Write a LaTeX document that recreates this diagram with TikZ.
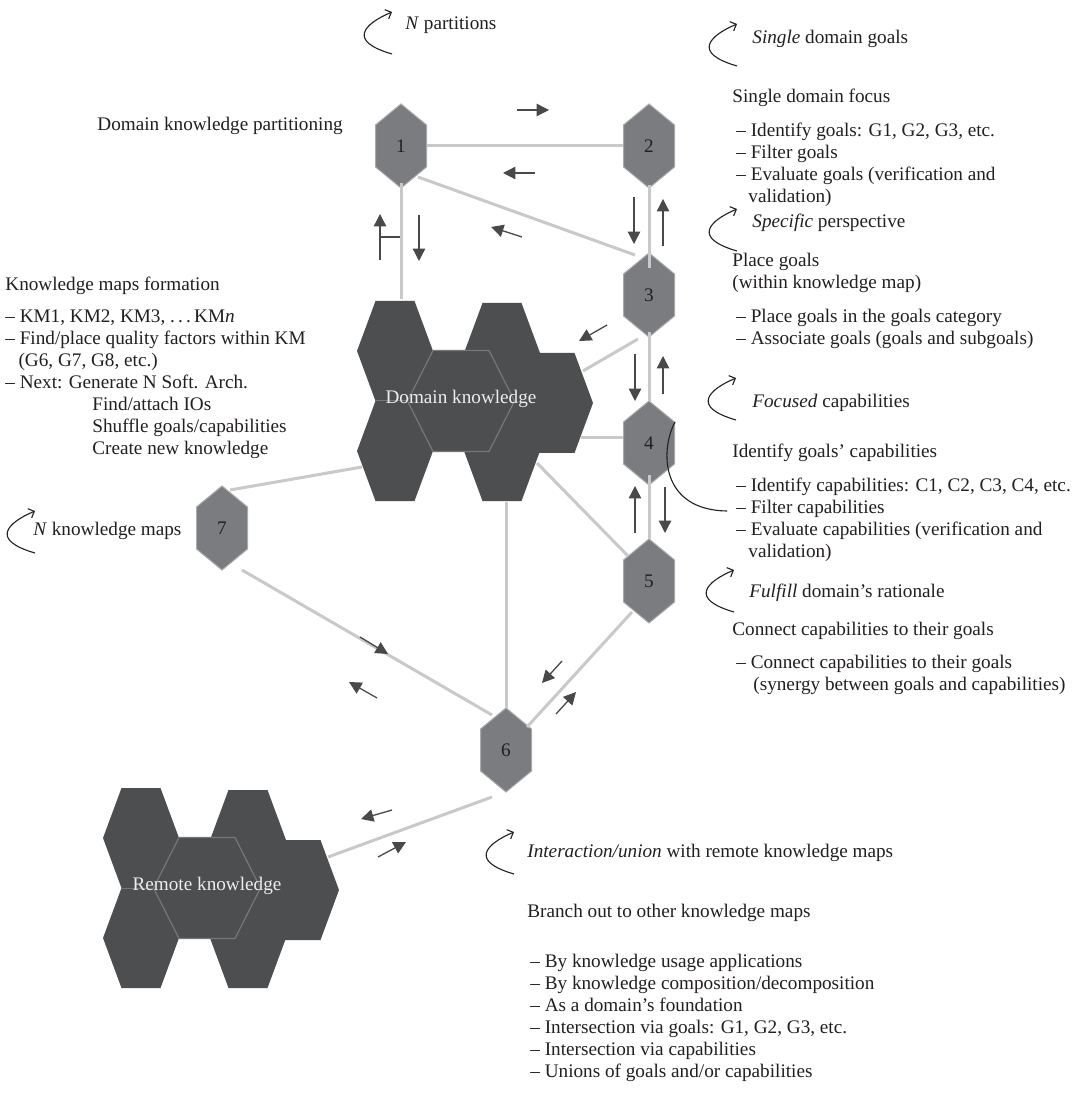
\documentclass[tikz,border=0pt]{standalone}
\usepackage{fontspec}
\setmainfont{Liberation Serif}
\usetikzlibrary{arrows.meta,calc}

\definecolor{darkhex}{HTML}{4D4E50}
\definecolor{midhex}{HTML}{7B7C7F}
\definecolor{hexrim}{HTML}{A9AAAC}
\definecolor{linkgray}{HTML}{C9C9C9}
\definecolor{flowgray}{HTML}{48494B}
\definecolor{ink}{HTML}{231F20}
\definecolor{seam}{HTML}{76777A}

\tikzset{
  link/.style={draw=linkgray, line width=1.5pt},
  flow/.style={draw=flowgray, line width=0.65pt, -{Triangle[length=6.2pt,width=6.2pt]}},
  turn/.style={draw=ink, line width=0.55pt, -{Straight Barb[length=2.5pt,width=5pt]}},
  % multi-line blocks are placed by the baseline of their last line
  txt/.style={font=\fontsize{9.6}{11}\selectfont, text=ink, inner sep=0pt, anchor=base west, align=left},
  hexlabel/.style={minimum width=25.5pt, minimum height=42pt, inner sep=0pt,
                   font=\fontsize{9.6}{11}\selectfont, text=ink},
  clusterlabel/.style={font=\fontsize{9.6}{11}\selectfont, text=white!93!black, inner sep=0pt},
  smallhexfill/.style={fill=midhex, draw=hexrim, line width=0.5pt},
}

% elongated stage hexagon with its number
\newcommand\stagehex[3]{%
  \filldraw[smallhexfill, shift={(#2)}]
    (0,-42) -- (25.5,-21) -- (25.5,21) -- (0,42) -- (-25.5,21) -- (-25.5,-21) -- cycle;
  \node[hexlabel] (#1) at (#2) {#3};}

% cluster of dark hexagons around an outlined centre cell
\newcommand\knowledgecluster[3]{%
  \begin{scope}[shift={(#2)}]
    \foreach \cx/\cy in {-66/-50, -66/50, 41/-48, 41/50, 94/2}
      \fill[darkhex] (\cx-19.5,\cy-50) -- (\cx+19.5,\cy-50) -- (\cx+38,\cy)
        -- (\cx+19.5,\cy+50) -- (\cx-19.5,\cy+50) -- (\cx-38,\cy) -- cycle;
    \draw[seam, line width=0.5pt] (-85.5,0) -- (-53.5,0);
    \filldraw[fill=darkhex, draw=seam, line width=0.6pt]
      (-28,-50.5) -- (28,-50.5) -- (53.5,0) -- (28,50.5) -- (-28,50.5) -- (-53.5,0) -- cycle;
  \end{scope}
  \node[clusterlabel] (#1) at ($(#2)+(0,-2)$) {#3};}

% small curved turn arrow, head at the given point
\newcommand\turnarrow[2]{%
  \draw[turn, shift={(#1,#2)}] (0,42) .. controls (-45,29) and (-28,12) .. (0,0);}

\begin{document}
\begin{tikzpicture}[x=0.5pt, y=-0.5pt]
\fill[white] (0,0) rectangle (1071,1095);
\useasboundingbox (0,0) rectangle (1071,1095);

% knowledge clusters
\knowledgecluster{dk}{461,401}{Domain knowledge}
\knowledgecluster{rk}{207,888}{Remote knowledge}

% stage hexagons
\stagehex{n1}{401,146}{1}
\stagehex{n2}{649,146}{2}
\stagehex{n3}{649,295}{3}
\stagehex{n4}{649,443}{4}
\stagehex{n5}{649,581}{5}
\stagehex{n6}{506,750}{6}
\stagehex{n7}{222,528}{7}

% connectors
\draw[link] (n1.east) -- (n2.west);
\draw[link] ($(n1)+(17,31)$) -- ($(n3)+(-14,-40)$);
\draw[link] ($(n1)+(0,37)$) -- ($(dk)+(-60,-100)$);
\draw[link] ($(n2)+(0,39)$) -- ($(n3)+(0,-27)$);
\draw[link] ($(n3)+(-11,44)$) -- ($(dk)+(122,-28)$);
\draw[link] ($(n3)+(0,37)$) -- (n4.north);
\draw[link] ($(n4.west)+(0,-5)$) -- ($(dk)+(120,39)$);
\draw[link] ($(n4)+(0,32)$) -- (n5.north);
\draw[link] ($(n5)+(-21,-25)$) -- ($(dk)+(76,64)$);
\draw[link] ($(dk)+(45,103)$) -- (n6.north);
\draw[link] ($(n7)+(8,-38)$) -- ($(dk)+(-99,68)$);
\draw[link] ($(n7)+(20,42)$) -- ($(n6)+(-14,-35)$);
\draw[link] ($(n5)+(-17,31)$) -- ($(n6)+(21,-23)$);
\draw[link] ($(n6)+(-14,47)$) -- ($(rk)+(121,-29)$);

% direction arrows
\draw[flow] (517,110) -- (549,110);
\draw[flow] (535,173) -- (503,173);
\draw[flow] (522,237) -- (491,227);
\draw[flow] (380,260) -- (380,214);
\draw[draw=flowgray, line width=0.65pt] (380,237) -- (400,237);
\draw[flow] (419,215) -- (419,261);
\draw[flow] (634,197) -- (634,244);
\draw[flow] (663,246) -- (663,199);
\draw[flow] (607,325) -- (579,341);
\draw[flow] (635,354) -- (635,401);
\draw[flow] (663,394) -- (663,356);
\draw[flow] (635,533) -- (635,486);
\draw[flow] (665,487) -- (665,533);
\draw[flow] (360,637) -- (388,654);
\draw[flow] (377,698) -- (349,682);
\draw[flow] (562,661) -- (542,683);
\draw[flow] (556,714) -- (576,692);
\draw[flow] (392,810) -- (361,819);
\draw[flow] (378,857) -- (406,842);

% turn arrows
\turnarrow{392}{12}
\turnarrow{737}{24}
\turnarrow{737}{209}
\turnarrow{736}{378}
\turnarrow{734}{570}
\turnarrow{35}{511}
\turnarrow{514}{832}

% sweep from stage 4 to its capability list
\coordinate (capref) at (727,511);
\draw[ink, line width=0.55pt] ($(n4)+(26,-21)$) .. controls (660,450) and (660,510) .. (capref);

% labels
\node[txt] (npart) at (405,30) {\textit{N} partitions};
\node[txt] (singlegoals) at (752,44) {\textit{Single} domain goals};
\node[txt] (specific) at (752,228) {\textit{Specific} perspective};
\node[txt] (focused) at (752,408) {\textit{Focused} capabilities};
\node[txt] (fulfill) at (749,597) {\textit{Fulfill} domain’s rationale};
\node[txt] (nkm) at (33,535) {\textit{N} knowledge maps};
\node[txt] (interact) at (527,857) {\textit{Interaction/union} with remote knowledge maps};

\node[txt] (partition) at (97,131) {Domain knowledge partitioning};

\node[txt] (kmform) at (5,455) {Knowledge maps formation\\[5pt]
  – KM1, KM2, KM3, .\,.\,.\,KM\textit{n}\\
  – Find/place quality factors within KM\\
  \hspace*{6.6pt}(G6, G7, G8, etc.)\\
  – Next: Generate N Soft. Arch.\\
  \hspace*{43.5pt}Find/attach IOs\\
  \hspace*{43.5pt}Shuffle goals/capabilities\\
  \hspace*{43.5pt}Create new knowledge};

\node[txt] (focusblk) at (732,203) {Single domain focus\\[6pt]
  \hspace*{2pt}– Identify goals: G1, G2, G3, etc.\\
  \hspace*{2pt}– Filter goals\\
  \hspace*{2pt}– Evaluate goals (verification and\\
  \hspace*{8pt}validation)};

\node[txt] (placeblk) at (732,345) {Place goals\\(within knowledge map)\\[6pt]
  \hspace*{2pt}– Place goals in the goals category\\
  \hspace*{2pt}– Associate goals (goals and subgoals)};

\node[txt] (capblk) at (732,557) {Identify goals’ capabilities\\[6pt]
  \hspace*{2pt}– Identify capabilities: C1, C2, C3, C4, etc.\\
  \hspace*{2pt}– Filter capabilities\\
  \hspace*{2pt}– Evaluate capabilities (verification and\\
  \hspace*{8pt}validation)};

\node[txt] (connblk) at (732,690) {Connect capabilities to their goals\\[5.5pt]
  \hspace*{2pt}– Connect capabilities to their goals\\
  \hspace*{10.5pt}(synergy between goals and capabilities)};

\node[txt] (branchblk) at (527,1077) {Branch out to other knowledge maps\\[14pt]
  \hspace*{1.5pt}– By knowledge usage applications\\
  \hspace*{1.5pt}– By knowledge composition/decomposition\\
  \hspace*{1.5pt}– As a domain’s foundation\\
  \hspace*{1.5pt}– Intersection via goals: G1, G2, G3, etc.\\
  \hspace*{1.5pt}– Intersection via capabilities\\
  \hspace*{1.5pt}– Unions of goals and/or capabilities};
\end{tikzpicture}
\end{document}
